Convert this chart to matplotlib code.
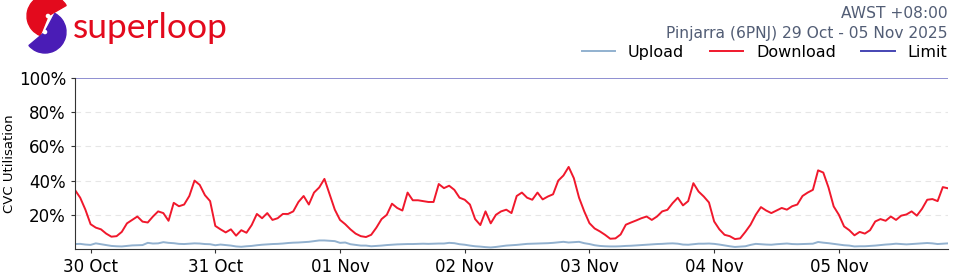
import pandas as pd
import matplotlib
matplotlib.use("Agg")
import matplotlib.pyplot as plt
import matplotlib.dates as mdates
from matplotlib.patches import Wedge
from matplotlib.lines import Line2D

# hourly samples, 29 Oct 21:00 -> 05 Nov 21:00 (AWST)
start = "2025-10-29 21:00"

download = [
    34.5, 30, 23, 14.5, 12.5, 11.5, 9, 7.2, 7.5, 10, 15, 17, 19, 16, 15.5, 19, 22, 21, 16.5,
    27, 25, 26, 31, 40, 37.5, 31.5, 28, 13.5, 11.5, 9.7, 11.5, 7.8, 11, 9.5, 14, 20.5, 18, 21,
    17, 18, 20.5, 20.5, 22, 27.5, 31, 26, 33, 36, 41, 32, 23, 17, 14.5, 11.5, 9, 7.5, 7, 8.3,
    12.5, 17.5, 20, 26.5, 24, 22.5, 33, 28.5, 28.5, 28, 27.5, 27.5, 38, 35.6, 37, 34.6, 30,
    28.8, 26, 17.5, 14, 22, 15, 20, 22, 23, 21, 31, 33, 30, 28.8, 33, 29, 30.7, 32, 40, 43,
    48, 41.4, 30, 22, 15.1, 12, 10.3, 8.3, 6, 6.2, 8.5, 14.2, 15.5, 16.7, 18, 19, 17, 19, 22,
    22.9, 26.8, 30, 25.5, 28, 38.5, 33.6, 30.7, 27.2, 16.1, 11.5, 8.3, 7.5, 5.8, 6.2, 10,
    14.2, 20, 24.5, 22.5, 21, 22.5, 24, 23, 25, 26, 31, 33, 34.6, 46, 44.7, 36, 24.9, 20,
    13.2, 11, 8, 10, 9, 11, 16.1, 17.5, 16.5, 19, 17, 19.5, 20.2, 22, 19.5, 23.5, 28.8,
    29.2, 28, 36.2, 35.5,
]

upload = [
    2.9, 3.0, 2.6, 2.4, 3.3, 2.8, 2.3, 1.8, 1.6, 1.5, 1.8, 2.1, 2.2, 2.3, 3.6, 3.2, 3.3, 4.0,
    3.6, 3.4, 3.0, 2.9, 3.1, 3.3, 3.2, 2.9, 2.8, 2.2, 2.6, 2.3, 2.0, 1.5, 1.3, 1.6, 1.8, 2.2,
    2.5, 2.7, 2.9, 3.0, 3.2, 3.5, 3.7, 3.8, 4.0, 4.2, 4.6, 5.0, 5.0, 4.8, 4.6, 3.6, 3.8, 2.8,
    2.4, 2.0, 2.0, 1.6, 1.8, 2.0, 2.3, 2.5, 2.7, 2.8, 2.9, 2.9, 3.0, 3.1, 3.0, 3.1, 3.2, 3.2,
    3.6, 3.4, 2.8, 2.5, 2.0, 1.6, 1.4, 1.1, 0.9, 1.2, 1.6, 2.0, 2.2, 2.4, 2.7, 3.0, 3.1, 3.2,
    3.3, 3.4, 3.6, 3.9, 4.2, 3.8, 4.0, 4.2, 3.4, 2.9, 2.2, 1.8, 1.6, 1.5, 1.5, 1.6, 1.8, 1.9,
    2.1, 2.3, 2.5, 2.7, 2.9, 3.0, 3.2, 3.3, 3.1, 2.6, 2.5, 2.8, 3.1, 3.1, 3.2, 3.0, 2.6, 2.1,
    1.6, 1.2, 1.4, 1.6, 2.4, 3.0, 2.8, 2.6, 2.5, 2.8, 3.0, 3.2, 2.9, 2.8, 2.9, 3.0, 3.1, 4.1,
    3.7, 3.4, 3.0, 2.6, 2.2, 2.0, 1.5, 1.6, 1.6, 1.8, 2.0, 2.3, 2.6, 2.8, 3.1, 2.9, 2.7, 2.9,
    3.1, 3.3, 3.5, 3.3, 2.9, 3.1, 3.3,
]

limit = 100
y_ticks = [20, 40, 60, 80, 100]

times = pd.date_range(start, periods=len(download), freq="h")

RED = "#f0182c"
UP = "#92b1cf"
LIM = "#4545b3"
HEAD = "#525d75"

fig = plt.figure(figsize=(9.6, 2.8), dpi=100)
ax = fig.add_axes([75 / 960, 1 - 249 / 280, 873 / 960, 171 / 280])

ax.plot(times, upload, color=UP, lw=1.4)
ax.plot(times, download, color=RED, lw=1.4)
ax.axhline(limit, color=LIM, lw=1.2, alpha=0.7)

ax.set_xlim(times[0], times[-1])
ax.set_ylim(0, 100)
ax.set_yticks(y_ticks)
ax.set_yticklabels([f"{v}%" for v in y_ticks])
for v in y_ticks[:-1]:
    ax.axhline(v, color="#e6e6e6", lw=0.8, ls=(0, (5, 4)), zorder=0)

ax.xaxis.set_major_locator(mdates.DayLocator())
ax.xaxis.set_major_formatter(mdates.DateFormatter("%d %b"))
ax.tick_params(labelsize=12, length=3, color="#333333")
ax.spines["top"].set_visible(False)
ax.spines["right"].set_visible(False)
ax.spines["left"].set_color("#333333")
ax.spines["bottom"].set_color("#333333")
ax.set_ylabel("CVC Utilisation", fontsize=9.5)
ax.yaxis.set_label_coords(-0.068, 0.5)

# header
fig.text(0.987, 0.95, "AWST +08:00", ha="right", va="center", fontsize=11.2, color=HEAD)
fig.text(0.987, 0.88, "Pinjarra (6PNJ) 29 Oct - 05 Nov 2025", ha="right", va="center",
         fontsize=11.2, color=HEAD)

handles = [Line2D([], [], color=UP, lw=1.4), Line2D([], [], color=RED, lw=1.4),
           Line2D([], [], color=LIM, lw=1.4)]
fig.legend(handles, ["Upload", "Download", "Limit"], loc="center right",
           bbox_to_anchor=(1.002, 0.813), ncol=3, frameon=False, fontsize=11.5,
           handlelength=2.1, columnspacing=1.6, handletextpad=0.8)

# logo
lax = fig.add_axes([0, 1 - 56 / 280, 80 / 960, 56 / 280])
lax.set_xlim(0, 80)
lax.set_ylim(0, 56)
lax.axis("off")
lax.add_patch(Wedge((48, 40), 21, 30, 248, width=18, color="#e30a1d"))
lax.add_patch(Wedge((45, 24), 21, -140, 62, width=18, color="#4a1cb6"))
fig.text(73 / 960, 1 - 38 / 280, "superloop", fontsize=25.5, color="#e30a1d",
         family="Lato", ha="left", va="baseline")

fig.savefig("out.png", dpi=100)
